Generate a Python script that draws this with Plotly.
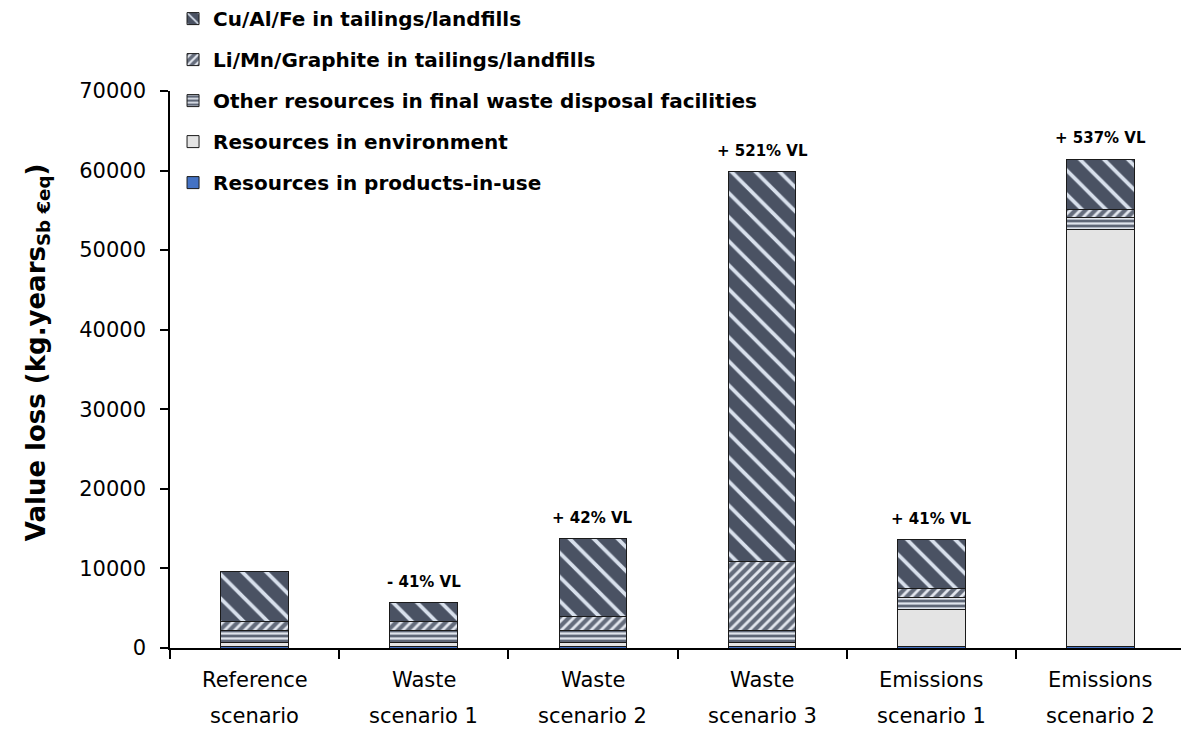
import plotly.graph_objects as go

categories = ["Reference scenario", "Waste scenario 1", "Waste scenario 2",
              "Waste scenario 3", "Emissions scenario 1", "Emissions scenario 2"]
cat_line1 = ["Reference", "Waste", "Waste", "Waste", "Emissions", "Emissions"]
cat_line2 = ["scenario", "scenario 1", "scenario 2", "scenario 3", "scenario 1", "scenario 2"]

products_in_use = [250, 250, 250, 250, 250, 250]
environment = [450, 450, 450, 450, 4650, 52400]
other_final_waste = [1500, 1500, 1500, 1500, 1400, 1500]
li_mn_graphite = [1100, 1100, 1760, 8670, 1130, 1000]
cu_al_fe = [6350, 2400, 9740, 49000, 6170, 6300]

change_labels = ["", "- 41% VL", "+ 42% VL", "+ 521% VL", "+ 41% VL", "+ 537% VL"]

FONT = "DejaVu Sans"
line = dict(width=1, color="#1a1a1a")

fig = go.Figure()
series = [
    ("Resources in products-in-use", products_in_use,
     dict(color="#4472c4", line=line)),
    ("Resources in environment", environment,
     dict(color="#e4e4e4", line=line)),
    ("Other resources in final waste disposal facilities", other_final_waste,
     dict(color="#6a7282", line=line,
          pattern=dict(shape="-", size=5, solidity=0.45, bgcolor="#5e6676",
                       fgcolor="#dfe4ec", fillmode="replace"))),
    ("Li/Mn/Graphite in tailings/landfills", li_mn_graphite,
     dict(color="#6a7282", line=line,
          pattern=dict(shape="/", size=7, solidity=0.4, bgcolor="#646c7c",
                       fgcolor="#e2e6ee", fillmode="replace"))),
    ("Cu/Al/Fe in tailings/landfills", cu_al_fe,
     dict(color="#4a5263", line=line,
          pattern=dict(shape="\\", size=17, solidity=0.22, bgcolor="#4a5263",
                       fgcolor="#d8e0ec", fillmode="replace"))),
]
n = len(series)
for i, (name, vals, marker) in enumerate(series):
    fig.add_trace(go.Bar(x=categories, y=vals, name=name, marker=marker,
                         legendgroup=f"g{i}", legendrank=n - i))

totals = [sum(v) for v in zip(products_in_use, environment, other_final_waste,
                              li_mn_graphite, cu_al_fe)]
for c, t, lab in zip(categories, totals, change_labels):
    if lab:
        fig.add_annotation(x=c, y=t, xref="x", yref="y", text=f"<b>{lab}</b>",
                           showarrow=False, yanchor="middle", yshift=21,
                           font=dict(family=FONT, size=15, color="black"))
for c, l1, l2 in zip(categories, cat_line1, cat_line2):
    fig.add_annotation(x=c, y=0, xref="x", yref="paper", text=l1, showarrow=False,
                       yanchor="middle", yshift=-32,
                       font=dict(family=FONT, size=21, color="black"))
    fig.add_annotation(x=c, y=0, xref="x", yref="paper", text=l2, showarrow=False,
                       yanchor="middle", yshift=-68,
                       font=dict(family=FONT, size=21, color="black"))

# y-axis title placed as a rotated annotation to match the reference position
fig.add_annotation(x=-0.131, y=0.531, xref="paper", yref="paper",
                   text="<b>Value loss (kg.years<sub>Sb €eq</sub>)</b>",
                   textangle=-90, showarrow=False, xanchor="center", yanchor="middle",
                   font=dict(family=FONT, size=26, color="black"))

# page body adds an 8px offset; size the figure so it fills the 1189x729 window
fig.update_layout(
    width=1181, height=721,
    barmode="stack", bargap=0.6,
    plot_bgcolor="white", paper_bgcolor="white",
    margin=dict(l=162, r=4, t=83, b=81, autoexpand=False),
    font=dict(family=FONT, color="black"),
    legend=dict(x=0.003, y=1.165, xanchor="left", yanchor="top",
                traceorder="grouped", tracegroupgap=12,
                bgcolor="rgba(0,0,0,0)",
                font=dict(family=FONT, size=20, color="black", weight="bold")),
    xaxis=dict(showline=True, linecolor="black", linewidth=1.5, ticks="outside",
               tickson="boundaries", ticklen=9, tickcolor="black", tickwidth=1.5,
               showticklabels=False, showgrid=False),
    yaxis=dict(range=[0, 70000], dtick=10000, tickformat="d", showline=True,
               linecolor="black", linewidth=1.5, ticks="outside", ticklen=8,
               tickcolor="black", tickwidth=1.5, showgrid=False, zeroline=False,
               tickfont=dict(family=FONT, size=21, color="black"),
               ticklabelstandoff=10),
)

fig.write_html("out.html")
